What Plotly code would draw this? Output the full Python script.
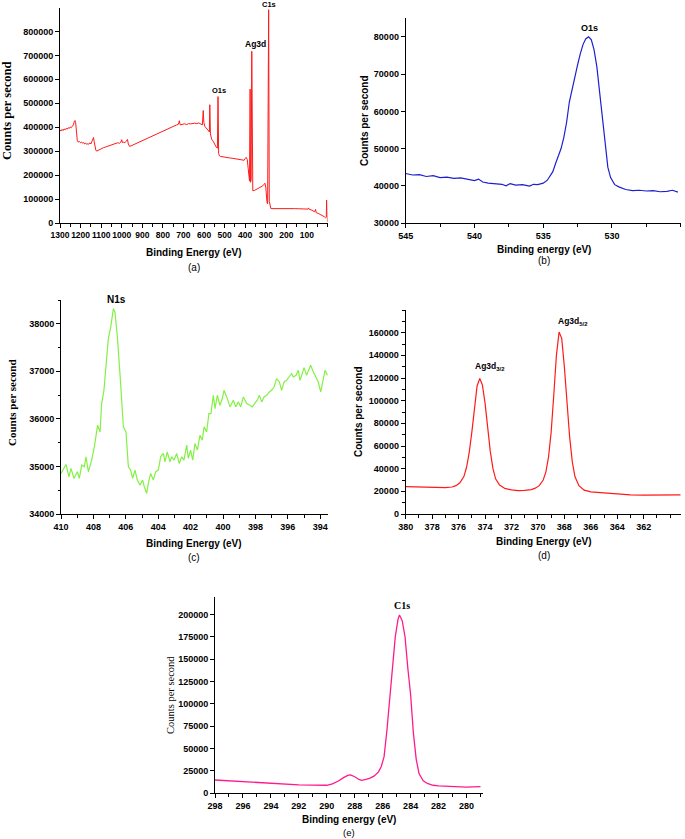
import plotly.graph_objects as go

# ---------------- data ----------------
# (a) survey spectrum
a_be = [1300, 1295, 1290, 1285, 1280, 1275, 1270, 1265, 1260, 1255, 1250, 1245, 1240, 1235, 1230, 1227,
        1224, 1220, 1216, 1212, 1205, 1200, 1195, 1190, 1185, 1180, 1175, 1170, 1165, 1160, 1155, 1150,
        1145, 1140, 1137, 1134, 1130, 1126, 1122, 1118, 1110, 1100, 1090, 1080, 1070, 1060, 1050, 1040,
        1030, 1020, 1010, 1005, 1000, 997, 990, 985, 980, 975, 972, 968, 962, 955, 945, 935, 925, 915,
        905, 895, 885, 875, 865, 855, 845, 835, 825, 815, 805, 795, 785, 775, 765, 755, 745, 735, 725,
        720, 716, 705, 695, 685, 675, 665, 655, 645, 635, 625, 615, 608, 604, 601, 596, 590, 584, 578,
        574, 572, 569, 563, 556, 548, 542, 535, 532, 529, 525, 520, 510, 500, 490, 480, 470, 460, 450,
        440, 430, 420, 410, 405, 400, 395, 390, 386, 382, 379, 376, 374, 371, 368, 366, 363, 355, 345,
        335, 325, 315, 308, 304, 300, 297, 294, 291, 286, 283, 279, 275, 260, 240, 220, 200, 180, 160,
        140, 120, 100, 95, 92, 89, 80, 70, 62, 58, 55, 45, 35, 25, 15, 10, 6, 4, 2, 0]
a_cps = [388000, 384000, 391000, 386000, 393000, 389000, 395000, 392000, 398000, 395000, 401000, 398000,
         404000, 410000, 425000, 428000, 420000, 380000, 345000, 338000, 340000, 335000, 338000, 333000,
         336000, 330000, 334000, 328000, 331000, 329000, 335000, 330000, 338000, 350000, 357000, 340000,
         320000, 305000, 300000, 302000, 305000, 309000, 314000, 317000, 320000, 323000, 327000, 330000,
         332000, 335000, 333000, 337000, 348000, 336000, 338000, 335000, 340000, 347000, 349000, 330000,
         320000, 322000, 326000, 330000, 334000, 338000, 343000, 347000, 351000, 355000, 359000, 362000,
         367000, 371000, 376000, 380000, 384000, 388000, 392000, 396000, 399000, 402000, 406000, 409000,
         412000, 427000, 410000, 412000, 414000, 411000, 415000, 414000, 416000, 417000, 415000, 418000,
         413000, 410000, 470000, 420000, 403000, 398000, 392000, 385000, 380000, 494000, 372000, 350000,
         342000, 325000, 319000, 312000, 528000, 290000, 280000, 278000, 276000, 275000, 273000, 272000,
         271000, 270000, 269000, 268000, 267000, 265000, 264000, 262000, 270000, 274000, 265000, 230000,
         185000, 175000, 559000, 170000, 180000, 717000, 200000, 135000, 136000, 140000, 144000, 148000,
         155000, 162000, 166000, 150000, 100000, 85000, 80000, 891000, 90000, 63000, 60000, 60000, 60500,
         61000, 61000, 60500, 60000, 59500, 58500, 57500, 58000, 63000, 57000, 55000, 50000, 47000, 57000,
         43000, 40000, 36000, 30000, 26000, 22000, 24000, 96000, 30000, 5000]

# (b) O1s
b_be = [545.0, 544.5, 544.0, 543.5, 543.0, 542.5, 542.0, 541.5, 541.0, 540.5, 540.0, 539.7, 539.4, 539.0,
        538.5, 538.0, 537.7, 537.4, 537.0, 536.5, 536.0, 535.7, 535.4, 535.0, 534.7, 534.5, 534.3, 534.1,
        533.9, 533.7, 533.5, 533.3, 533.1, 532.9, 532.7, 532.5, 532.3, 532.1, 531.9, 531.7, 531.5, 531.3,
        531.1, 530.9, 530.7, 530.5, 530.3, 530.1, 529.8, 529.5, 529.0, 528.5, 528.0, 527.5, 527.0, 526.5,
        526.0, 525.6, 525.2]
b_cps = [43300, 42900, 43000, 42500, 42700, 42200, 42300, 42000, 42100, 41700, 41400, 41800, 41000, 40700,
         40500, 40400, 40000, 40600, 40200, 40300, 39900, 40400, 40300, 40700, 41500, 42500, 43800, 46000,
         47800, 50000, 53000, 57000, 62500, 66000, 69500, 72500, 75500, 78000, 79500, 80000, 79200, 76500,
         72000, 65000, 57500, 50500, 45000, 42200, 40300, 39700, 39000, 38700, 38800, 38600, 38700, 38400,
         38500, 38800, 38300]

# (c) N1s
c_be = [410.00, 409.69, 409.51, 409.38, 409.20, 408.99, 408.87, 408.72, 408.56, 408.46, 408.31, 408.11,
        407.94, 407.74, 407.59, 407.49, 407.35, 407.22, 407.08, 406.93, 406.77, 406.67, 406.52, 406.36,
        406.15, 405.99, 405.84, 405.70, 405.58, 405.43, 405.29, 405.12, 404.96, 404.86, 404.71, 404.61,
        404.47, 404.30, 404.16, 403.99, 403.85, 403.68, 403.58, 403.44, 403.27, 403.17, 403.02, 402.86,
        402.70, 402.55, 402.41, 402.24, 402.14, 402.00, 401.87, 401.73, 401.58, 401.42, 401.28, 401.17,
        401.01, 400.87, 400.74, 400.60, 400.49, 400.35, 400.19, 400.04, 399.94, 399.77, 399.57, 399.36,
        399.22, 399.05, 398.91, 398.74, 398.54, 398.33, 398.19, 398.02, 397.88, 397.76, 397.61, 397.47,
        397.30, 397.14, 397.00, 396.85, 396.69, 396.52, 396.38, 396.23, 396.07, 395.93, 395.76, 395.66,
        395.49, 395.35, 395.25, 395.14, 395.00, 394.84, 394.73, 394.59, 394.42, 394.26, 394.12, 393.97,
        393.81, 393.70, 393.56]
c_cps = [34853, 35042, 34783, 34958, 34748, 34888, 34748, 35028, 34993, 35203, 34888, 35133,
         35413, 35867, 35727, 36322, 36601, 37091, 37685, 37930, 38315, 38245, 37720, 36951,
         35832, 35727, 34993, 34923, 34748, 34923, 34713, 34608, 34713, 34573, 34434, 34643,
         34853, 34713, 34888, 34923, 35203, 35273, 35098, 35308, 35098, 35203, 35133, 35273,
         35063, 35203, 35133, 35448, 35168, 35343, 35133, 35483, 35343, 35657, 35552, 35832,
         35727, 36112, 36112, 36497, 36217, 36497, 36287, 36427, 36601, 36462, 36252, 36392,
         36252, 36357, 36252, 36462, 36322, 36287, 36252, 36336, 36392, 36497, 36357, 36462,
         36497, 36566, 36601, 36671, 36846, 36776, 36601, 36776, 36811, 36881, 36951, 36881,
         36916, 37021, 36811, 36916, 37077, 36916, 37021, 37126, 36986, 36881, 36776, 36566,
         36811, 37021, 36916]

# (d) Ag3d
d_be = [380.0, 379.0, 378.0, 377.0, 376.5, 376.2, 375.9, 375.6, 375.4, 375.2, 375.0, 374.8, 374.6, 374.4,
        374.2, 374.0, 373.8, 373.6, 373.4, 373.2, 372.9, 372.5, 372.0, 371.5, 371.0, 370.5, 370.2, 369.9,
        369.6, 369.4, 369.2, 369.0, 368.8, 368.6, 368.4, 368.2, 368.0, 367.8, 367.6, 367.4, 367.2, 366.9,
        366.5, 366.0, 365.0, 364.0, 363.0, 362.0, 361.0, 360.0, 359.2]
d_cps = [24100, 23700, 23000, 23200, 23800, 25000, 27500, 33000, 41000, 54000, 72000, 95000, 113000, 119500,
         114000, 98000, 76000, 55000, 40000, 31000, 25500, 22600, 21300, 20700, 20900, 21500, 22800, 25000,
         30000, 37000, 50000, 72000, 105000, 140000, 160500, 155000, 130000, 98000, 68000, 46000, 33000, 25000,
         21000, 19500, 18500, 17300, 16900, 16700, 16800, 16700, 16900]

# (e) C1s
e_be = [298.0, 297.0, 296.0, 295.0, 294.0, 293.0, 292.0, 291.0, 290.0, 289.6, 289.2, 288.8, 288.5, 288.3,
        288.0, 287.7, 287.5, 287.2, 286.9, 286.6, 286.3, 286.1, 285.9, 285.7, 285.5, 285.3, 285.1, 284.9,
        284.8, 284.6, 284.4, 284.2, 284.0, 283.8, 283.6, 283.4, 283.1, 282.8, 282.4, 282.0, 281.0, 280.0,
        279.0]
e_cps = [14900, 13900, 13000, 12100, 11200, 10300, 9500, 9100, 9000, 10500, 13500, 17500, 20000, 20500,
         18500, 15500, 14500, 15500, 17000, 19500, 24000, 30000, 41000, 70000, 105000, 140000, 175000, 195000,
         199500, 193000, 175000, 140000, 110000, 67000, 38000, 22000, 14000, 11000, 9000, 8200, 7500, 7000,
         7500]

# tick labels
a_xticks = [1300, 1200, 1100, 1000, 900, 800, 700, 600, 500, 400, 300, 200, 100]
a_yticks = [0, 100000, 200000, 300000, 400000, 500000, 600000, 700000, 800000]
b_xticks = [545, 540, 535, 530]
b_yticks = [30000, 40000, 50000, 60000, 70000, 80000]
c_xticks = [410, 408, 406, 404, 402, 400, 398, 396, 394]
c_yticks = [34000, 35000, 36000, 37000, 38000]
d_xticks = [380, 378, 376, 374, 372, 370, 368, 366, 364, 362]
d_yticks = [0, 20000, 40000, 60000, 80000, 100000, 120000, 140000, 160000]
e_xticks = [298, 296, 294, 292, 290, 288, 286, 284, 282, 280]
e_yticks = [0, 25000, 50000, 75000, 100000, 125000, 150000, 175000, 200000]

# ---------------- figure ----------------
W, H = 685, 839
SANS = "Liberation Sans, Arial, sans-serif"
SERIF = "Liberation Serif, Times New Roman, serif"


def px_x(p):
    return min(1.0, max(0.0, p / W))


def px_y(p):
    return min(1.0, max(0.0, 1 - p / H))


def pos_x(p):
    return p / W


def pos_y(p):
    return 1 - p / H


fig = go.Figure()
fig.add_trace(go.Scatter(x=a_be, y=a_cps, mode="lines", line=dict(color="#ff1a1a", width=1),
                         xaxis="x", yaxis="y", showlegend=False))
fig.add_trace(go.Scatter(x=b_be, y=b_cps, mode="lines", line=dict(color="#1f1fcf", width=1.2),
                         xaxis="x2", yaxis="y2", showlegend=False))
fig.add_trace(go.Scatter(x=c_be, y=c_cps, mode="lines", line=dict(color="#84f045", width=1.2),
                         xaxis="x3", yaxis="y3", showlegend=False))
fig.add_trace(go.Scatter(x=d_be, y=d_cps, mode="lines", line=dict(color="#ff1a1a", width=1.2),
                         xaxis="x4", yaxis="y4", showlegend=False))
fig.add_trace(go.Scatter(x=e_be, y=e_cps, mode="lines", line=dict(color="#ff1a8c", width=1.3),
                         xaxis="x5", yaxis="y5", showlegend=False))


def ax(domain, anchor, rng, tickvals, minor=None, fs=9):
    d = dict(domain=domain, anchor=anchor, range=rng, showline=True, linecolor="black", linewidth=1,
             ticks="outside", ticklen=4, tickwidth=1, tickcolor="black", showgrid=False, zeroline=False,
             automargin=False, tickangle=0, tickmode="array", tickvals=tickvals,
             ticktext=[str(v) for v in tickvals],
             tickfont=dict(family=SANS, size=fs, color="black", weight="bold"))
    if minor is not None:
        d["minor"] = dict(dtick=minor, ticks="outside", ticklen=2.5, tickcolor="black", tickwidth=1,
                          showgrid=False)
    return d


fig.update_layout(
    width=W, height=H, autosize=False, margin=dict(l=0, r=0, t=0, b=0, autoexpand=False),
    paper_bgcolor="white", plot_bgcolor="white",
    xaxis=ax([px_x(60), px_x(327.5)], "y", [1300, 0], a_xticks, minor=50, fs=8.5),
    yaxis=ax([px_y(223), px_y(7.5)], "x", [0, 900000], a_yticks),
    xaxis2=ax([px_x(405.7), px_x(680.7)], "y2", [545, 525], b_xticks, minor=2.5),
    yaxis2=ax([px_y(223), px_y(18.3)], "x2", [30000, 85000], b_yticks),
    xaxis3=ax([px_x(61), px_x(328.3)], "y3", [410, 393.5], c_xticks, minor=1),
    yaxis3=ax([px_y(514), px_y(300)], "x3", [34000, 38500], c_yticks, minor=500),
    xaxis4=ax([px_x(405.7), px_x(680.7)], "y4", [380, 359.2], d_xticks, minor=1),
    yaxis4=ax([px_y(514), px_y(310)], "x4", [0, 180000], d_yticks, minor=10000),
    xaxis5=ax([px_x(215), px_x(483.3)], "y5", [298, 278.8], e_xticks, minor=1),
    yaxis5=ax([px_y(793.3), px_y(596.7)], "x5", [0, 220000], e_yticks),
)

ann = []


def text(x, y, s, size, family=SANS, bold=True, angle=0):
    ann.append(dict(x=pos_x(x), y=pos_y(y), xref="paper", yref="paper", text=s, showarrow=False,
                    xanchor="center", yanchor="middle", textangle=angle,
                    font=dict(family=family, size=size, color="black", weight="bold" if bold else "normal")))


# axis titles and captions
text(7, 111, "Counts per second", 12.5, family=SERIF, angle=-90)
text(194, 252, "Binding Energy (eV)", 10)
text(194, 267, "(a)", 10, bold=False)

text(364, 121, "Counts per second", 10, angle=-90)
text(544, 249, "Binding energy (eV)", 10)
text(544, 260, "(b)", 10, bold=False)

text(12, 403, "Counts per second", 11, family=SERIF, angle=-90)
text(194, 543, "Binding Energy (eV)", 10)
text(194, 557, "(c)", 10, bold=False)

text(358, 412, "Counts per second", 10, angle=-90)
text(544, 541.7, "Binding Energy (eV)", 10)
text(544, 555, "(d)", 10, bold=False)

text(170, 695, "Counts per second", 10.5, family=SERIF, bold=False, angle=-90)
text(349, 819.5, "Binding energy (eV)", 10)
text(349, 832, "(e)", 9.5, bold=False)

# peak labels
text(269, 5, "C1s", 7.5)
text(255, 43.5, "Ag3d", 8.5)
text(218.5, 90, "O1s", 7.5)
text(589, 27.7, "O1s", 9)
text(116, 300, "N1s", 10)
text(573, 322, "Ag3d<sub>5/2</sub>", 8.5)
text(490, 366, "Ag3d<sub>3/2</sub>", 8.5)
text(401.7, 605.7, "C1s", 10, family=SERIF)

fig.update_layout(annotations=ann)
# remove the browser's default 8px body margin so the figure sits at the window corner
fig.write_html("out.html", config={"displayModeBar": False},
               post_script="document.body.style.margin='0px';")
